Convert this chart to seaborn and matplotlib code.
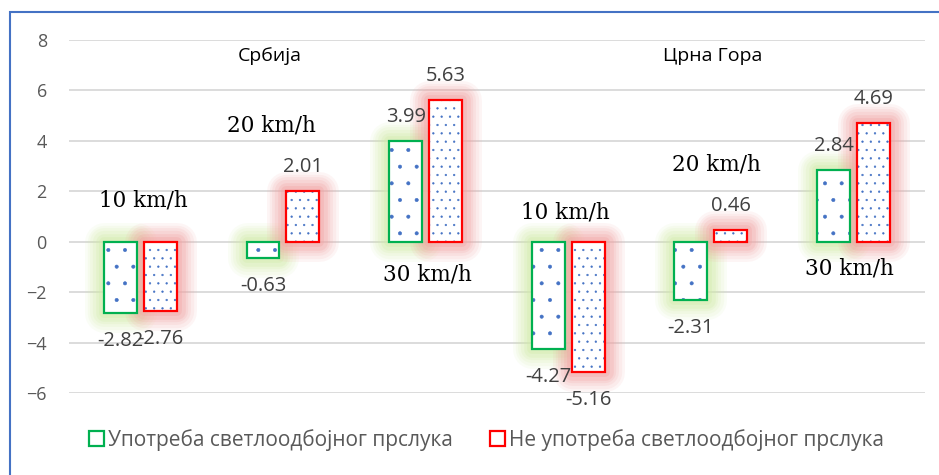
import matplotlib
matplotlib.use("Agg")
import matplotlib.pyplot as plt
import matplotlib.patches as mpatches
import matplotlib.patheffects as pe
import pandas as pd
import seaborn as sns

# podaci
groups = ["Србија 10", "Србија 20", "Србија 30", "Црна Гора 10", "Црна Гора 20", "Црна Гора 30"]
speed_labels = ["10 km/h", "20 km/h", "30 km/h", "10 km/h", "20 km/h", "30 km/h"]
countries = ["Србија", "Црна Гора"]
series = ["Употреба светлоодбојног прслука", "Не употреба светлоодбојног прслука"]
with_vest = [-2.82, -0.63, 3.99, -4.27, -2.31, 2.84]
without_vest = [-2.76, 2.01, 5.63, -5.16, 0.46, 4.69]

df = pd.DataFrame({
    "grupa": groups * 2,
    "serija": [series[0]] * 6 + [series[1]] * 6,
    "vrednost": with_vest + without_vest,
})

sns.set_style("white")
plt.rcParams["font.family"] = ["Open Sans", "DejaVu Sans"]
plt.rcParams["hatch.linewidth"] = 0.4

edge_cols = ["#00b050", "#ff0000"]
glow_cols = ["#d2ecaa", "#f3a3a3"]
hatches = [".", ".."]

fig = plt.figure(figsize=(9.39, 4.75), dpi=100)
ax = fig.add_axes([0.0735, 0.1726, 0.9115, 0.7432])

sns.barplot(data=df, x="grupa", y="vrednost", hue="serija", hue_order=series,
            width=0.56, gap=0.175, ax=ax, legend=False)

# stil stubova: tackice + okvir + sjaj
for i, cont in enumerate(ax.containers):
    for p in cont.patches:
        x, y, w, h = p.get_x(), p.get_y(), p.get_width(), p.get_height()
        p.set_facecolor("white")
        p.set_edgecolor("#4472c4")
        p.set_linewidth(0)
        p.set_hatch(hatches[i])
        p.set_zorder(2)
        glow = mpatches.Rectangle((x, y), w, h, facecolor=glow_cols[i], edgecolor=glow_cols[i],
                                  lw=0, zorder=1 + i * 0.5)
        glow.set_path_effects([pe.Stroke(linewidth=lw, foreground=glow_cols[i], alpha=a, joinstyle="round")
                               for lw, a in [(28, 0.10), (24, 0.12), (20, 0.14), (16, 0.18), (12, 0.25), (7, 0.35)]])
        ax.add_patch(glow)
        ax.add_patch(mpatches.Rectangle((x, y), w, h, fill=False, edgecolor=edge_cols[i],
                                        lw=1.6, zorder=3))
    labels = ["%.2f" % v for v in cont.datavalues]
    for p, lab, v in zip(cont.patches, labels, cont.datavalues):
        cx = p.get_x() + p.get_width() / 2
        off = 24 if v >= 0 else -28
        ax.annotate(lab, (cx, v), xytext=(0, off), textcoords="offset pixels",
                    ha="center", va="center", fontsize=14.5, color="#404040",
                    annotation_clip=False, zorder=5)

# natpisi brzina i drzava
speed_xy = [(0.02, 1.65), (0.92, 4.6), (2.01, -1.31), (2.98, 1.15), (4.04, 3.06), (4.97, -1.07)]
for lab, (sx, sy) in zip(speed_labels, speed_xy):
    ax.text(sx, sy, lab, ha="center", va="center", fontsize=15.5,
            family="DejaVu Serif", color="black", zorder=6)
for lab, cx in zip(countries, [0.91, 4.01]):
    ax.text(cx, 7.38, lab, ha="center", va="center", fontsize=14, color="black", zorder=6)

ax.set_ylim(-6, 8)
ax.set_xlim(-0.5, 5.5)
ax.set_yticks(range(-6, 9, 2))
ax.set_xticks([])
ax.set_xlabel("")
ax.set_ylabel("")
ax.tick_params(axis="y", length=0, pad=16, labelsize=13, labelcolor="#595959")
ax.grid(axis="y", color="#d9d9d9", lw=1.3, zorder=0)
ax.set_axisbelow(True)
for s in ax.spines.values():
    s.set_visible(False)

handles = [mpatches.Patch(facecolor="white", edgecolor=edge_cols[i], lw=1.6, label=series[i])
           for i in range(2)]
fig.legend(handles=handles, loc="center", bbox_to_anchor=(0.518, 0.074), ncol=2, frameon=False,
           fontsize=15, labelcolor="#595959", handlelength=0.7, handleheight=0.7,
           handletextpad=0.2, columnspacing=1.8)

fig.patches.append(mpatches.Rectangle((10 / 939, -0.1), 1.2, 1 - 12 / 475 + 0.1,
                                      transform=fig.transFigure, fill=False,
                                      edgecolor="#4472c4", lw=1.5))

fig.savefig("out.png", dpi=100)
